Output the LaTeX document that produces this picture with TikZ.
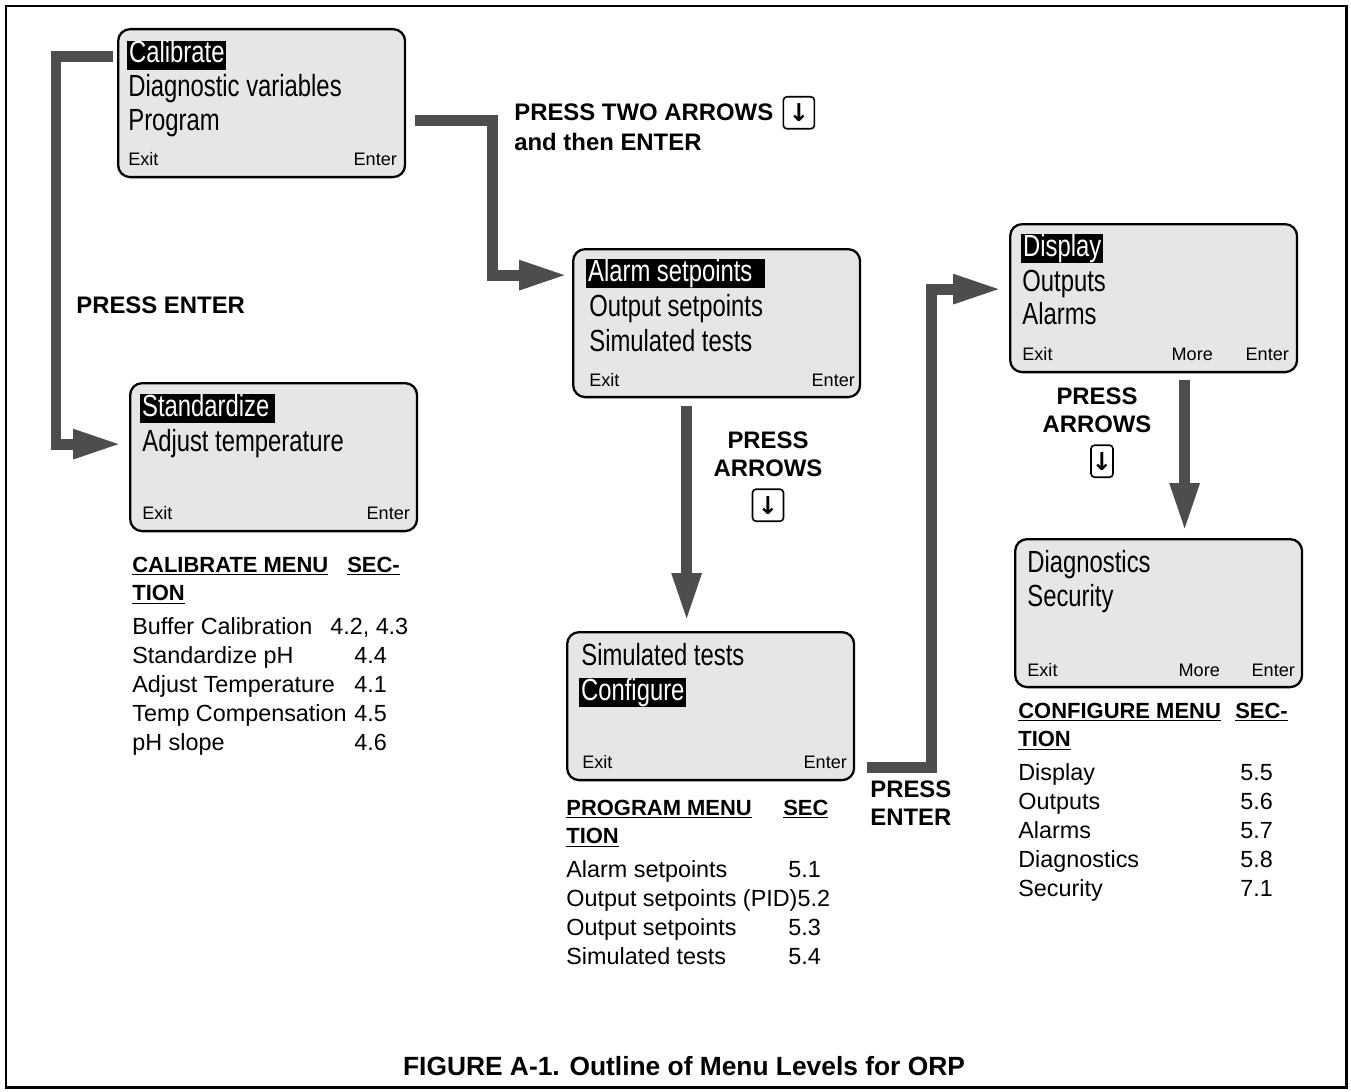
\documentclass[tikz,border=0pt]{standalone}
\usepackage{fontspec}
\setmainfont{Liberation Sans}
\newfontfamily\lcdfont[FakeStretch=0.78]{Liberation Sans}
\newfontfamily\symfont{DejaVu Sans}
\usetikzlibrary{arrows.meta, positioning, calc}
\definecolor{lcdgray}{HTML}{E6E6E6}
\definecolor{flowgray}{HTML}{4D4D4D}
\newcommand{\tabhead}[1]{\textbf{\fontsize{12.5pt}{16.44pt}\selectfont #1}}
\tikzset{
  screen/.style={
    draw=black, fill=lcdgray, line width=1.3pt, rounded corners=0.24cm,
    minimum width=5.74cm, minimum height=2.96cm, inner sep=0pt, anchor=north west
  },
  lcd/.style={font=\lcdfont\fontsize{17.4pt}{20pt}\selectfont, inner sep=0pt, anchor=base west},
  hilite/.style={
    lcd, fill=black, text=white, inner xsep=1pt, inner ysep=0.5pt,
    text height=12pt, text depth=3.5pt
  },
  softkey/.style={font=\fontsize{10.3pt}{12pt}\selectfont, inner sep=0pt},
  flowarrow/.style={
    draw=flowgray, line width=0.22cm, line join=miter,
    -{Triangle[length=0.98cm, width=0.54cm]}
  },
  hint/.style={font=\bfseries\fontsize{13.6pt}{16.4pt}\selectfont, inner sep=0pt},
  keycap/.style={
    draw, rounded corners=2pt, line width=0.9pt, minimum width=0.62cm,
    minimum height=0.64cm, inner sep=0pt, font=\symfont\bfseries\fontsize{14pt}{14pt}\selectfont
  },
  menutab/.style={font=\fontsize{13.3pt}{16.44pt}\selectfont, inner sep=0pt, anchor=base west}
}

\begin{document}
\begin{tikzpicture}[x=0.02cm, y=-0.02cm]
  \fill[white] (0,0) rectangle (1351,1091);
  \draw[line width=1.7pt] (6,6) rectangle (1346,1087);

  % the six display screens
  \node[screen] (cal) at (117,28) {};
  \node[screen] (std) at (129,382) {};
  \node[screen] (alarm) at (572,248) {};
  \node[screen] (prog) at (566,631) {};
  \node[screen] (disp) at (1009,223) {};
  \node[screen] (diag) at (1014,538) {};

  % main menu
  \node[hilite] (calA) at ($(cal.north west)+(10,35)$) {Calibrate};
  \node[lcd] (calB) at ($(cal.north west)+(11,69)$) {Diagnostic variables};
  \node[lcd] (calC) at ($(cal.north west)+(11,103)$) {Program};
  \node[softkey, anchor=base west] (calX) at ($(cal.north west)+(11,138)$) {Exit};
  \node[softkey, anchor=base east] (calE) at ($(cal.north east)+(-9,138)$) {Enter};

  % calibrate menu
  \node[hilite] (stdA) at ($(std.north west)+(11,34)$) {Standardize\kern2pt};
  \node[lcd] (stdB) at ($(std.north west)+(13,69)$) {Adjust temperature};
  \node[softkey, anchor=base west] (stdX) at ($(std.north west)+(13,137)$) {Exit};
  \node[softkey, anchor=base east] (stdE) at ($(std.north east)+(-8,137)$) {Enter};

  % program menu
  \node[hilite] (alarmA) at ($(alarm.north west)+(14,33)$) {Alarm setpoints\kern6pt};
  \node[lcd] (alarmB) at ($(alarm.north west)+(17,68)$) {Output setpoints};
  \node[lcd] (alarmC) at ($(alarm.north west)+(17,103)$) {Simulated tests};
  \node[softkey, anchor=base west] (alarmX) at ($(alarm.north west)+(17,138)$) {Exit};
  \node[softkey, anchor=base east] (alarmE) at ($(alarm.north east)+(-6,138)$) {Enter};

  \node[lcd] (progA) at ($(prog.north west)+(15,34)$) {Simulated tests};
  \node[hilite] (progB) at ($(prog.north west)+(13,69)$) {Configure};
  \node[softkey, anchor=base west] (progX) at ($(prog.north west)+(16,137)$) {Exit};
  \node[softkey, anchor=base east] (progE) at ($(prog.north east)+(-8,137)$) {Enter};

  % configure menu
  \node[hilite] (dispA) at ($(disp.north west)+(12,33)$) {Display};
  \node[lcd] (dispB) at ($(disp.north west)+(13,68)$) {Outputs};
  \node[lcd] (dispC) at ($(disp.north west)+(13,101)$) {Alarms};
  \node[softkey, anchor=base west] (dispX) at ($(disp.north west)+(13,137)$) {Exit};
  \node[softkey, anchor=base east] (dispM) at ($(disp.north east)+(-85,137)$) {More};
  \node[softkey, anchor=base east] (dispE) at ($(disp.north east)+(-9,137)$) {Enter};

  \node[lcd] (diagA) at ($(diag.north west)+(13,34)$) {Diagnostics};
  \node[lcd] (diagB) at ($(diag.north west)+(13,68)$) {Security};
  \node[softkey, anchor=base west] (diagX) at ($(diag.north west)+(13,138)$) {Exit};
  \node[softkey, anchor=base east] (diagM) at ($(diag.north east)+(-83,138)$) {More};
  \node[softkey, anchor=base east] (diagE) at ($(diag.north east)+(-8,138)$) {Enter};

  % key hints
  \node[hint, anchor=base west] (twoarr) at (514,121) {PRESS TWO ARROWS};
  \node[hint, anchor=base west] (thenent) at (514,151) {and then ENTER};
  \node[keycap, right=0.18cm of twoarr] (key1) {↓};
  \node[hint, anchor=base west] (entA) at (76,313) {PRESS ENTER};
  \node[hint, align=center, anchor=north] (arrB) at (768,431) {PRESS\\ARROWS};
  \node[keycap, below=0.22cm of arrB] (key2) {↓};
  \node[hint, align=center, anchor=north] (arrC) at (1097,387) {PRESS\\ARROWS};
  \node[keycap, minimum width=0.44cm, below=0.22cm of arrC, xshift=0.1cm] (key3) {↓};
  \node[hint, align=left, anchor=north west] (entD) at (870,780) {PRESS\\ENTER};

  % flow between screens
  \draw[flowarrow] ($(cal.north west)+(-4,29)$) -- ++(-57,0) |- ($(std.west)+(-7,-13)$);
  \draw[flowarrow] ($(cal.east)+(9,17)$) -- ++(77,0) |- ($(alarm.west)+(-4,-48)$);
  \coordinate (c1) at ($(alarm.south)+(-30,8)$);
  \draw[flowarrow, shorten >=0.18cm] (c1) -- (c1 |- prog.north);
  \draw[flowarrow] ($(prog.east)+(12,61)$) -- ++(64,0) |- ($(disp.west)+(-7,-9)$);
  \coordinate (e1) at ($(disp.south)+(31,7)$);
  \draw[flowarrow, shorten >=0.12cm] (e1) -- (e1 |- diag.north);

  % section tables
  \node[menutab] (caltab) at (132,572) {%
    \begin{tabular}[t]{@{}l@{}}
      \tabhead{\makebox[4.3cm][l]{\underline{CALIBRATE MENU}}\underline{SEC-}}\\
      \tabhead{\underline{TION}}\\[0.1cm]
      \makebox[3.96cm][l]{Buffer Calibration}4.2, 4.3\\
      \makebox[4.44cm][l]{Standardize pH}4.4\\
      \makebox[4.44cm][l]{Adjust Temperature}4.1\\
      \makebox[4.44cm][l]{Temp Compensation}4.5\\
      \makebox[4.44cm][l]{pH slope}4.6
    \end{tabular}};
  \node[menutab] (progtab) at (566,815) {%
    \begin{tabular}[t]{@{}l@{}}
      \tabhead{\makebox[4.34cm][l]{\underline{PROGRAM MENU}}\underline{SEC}}\\
      \tabhead{\underline{TION}}\\[0.1cm]
      \makebox[4.44cm][l]{Alarm setpoints}5.1\\
      Output setpoints (PID)5.2\\
      \makebox[4.44cm][l]{Output setpoints}5.3\\
      \makebox[4.44cm][l]{Simulated tests}5.4
    \end{tabular}};
  \node[menutab] (conftab) at (1018,718) {%
    \begin{tabular}[t]{@{}l@{}}
      \tabhead{\makebox[4.34cm][l]{\underline{CONFIGURE MENU}}\underline{SEC-}}\\
      \tabhead{\underline{TION}}\\[0.1cm]
      \makebox[4.44cm][l]{Display}5.5\\
      \makebox[4.44cm][l]{Outputs}5.6\\
      \makebox[4.44cm][l]{Alarms}5.7\\
      \makebox[4.44cm][l]{Diagnostics}5.8\\
      \makebox[4.44cm][l]{Security}7.1
    \end{tabular}};

  \node[font=\bfseries\fontsize{15pt}{18pt}\selectfont, inner sep=0pt, anchor=base] (title)
    at (684,1075) {FIGURE A-1. Outline of Menu Levels for ORP};
\end{tikzpicture}
\end{document}
